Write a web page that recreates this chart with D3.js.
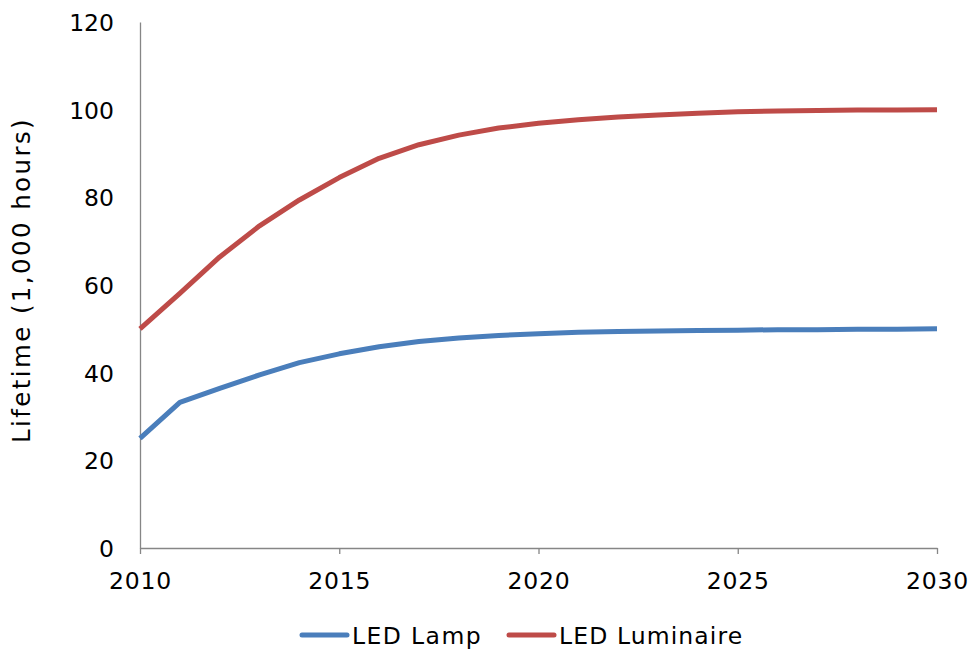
<!DOCTYPE html>
<html>
<head>
<meta charset="utf-8">
<script src="https://cdn.jsdelivr.net/npm/d3@7"></script>
<style>
  html, body { margin: 0; padding: 0; background: #fff; }
  svg text { font-family: "DejaVu Sans", "Noto Sans", sans-serif; fill: #000; }
</style>
</head>
<body>
<svg id="chart" width="973" height="650"></svg>
<script>
// Projected lifetime of LED products, thousands of hours
const years = d3.range(2010, 2031);
const lampValues = [25, 33.2, 36.4, 39.5, 42.3, 44.3, 45.9, 47.1, 47.9, 48.5, 48.9,
                    49.2, 49.4, 49.5, 49.6, 49.7, 49.8, 49.8, 49.9, 49.9, 50];
const luminaireValues = [50, 58.1, 66.4, 73.5, 79.4, 84.5, 88.9, 92.0, 94.2, 95.8, 96.9,
                         97.7, 98.3, 98.8, 99.2, 99.5, 99.7, 99.8, 99.9, 99.9, 100];
const yTicks = [0, 20, 40, 60, 80, 100, 120];
const xTicks = [2010, 2015, 2020, 2025, 2030];
const seriesNames = ["LED Lamp", "LED Luminaire"];
const seriesColors = ["#4A7EBB", "#BE4B48"];

const svg = d3.select("#chart");
const margin = { left: 140, right: 36, top: 22, bottom: 102 };
const W = 973, H = 650;

const x = d3.scaleLinear().domain([2010, 2030]).range([margin.left, W - margin.right]);
const y = d3.scaleLinear().domain([0, 120]).range([H - margin.bottom, margin.top]);

const axisColor = "#868686";
const fontSize = 23.5;

// y axis: line only, no tick marks; labels placed right-aligned left of the line
const yAxis = svg.append("g")
  .attr("transform", `translate(${margin.left},0)`)
  .call(d3.axisLeft(y).tickValues(yTicks).tickSize(0).tickFormat(""));
yAxis.select(".domain").attr("stroke", axisColor).attr("stroke-width", 1.3);
yAxis.selectAll(".tick").append("text")
  .attr("x", -26)
  .attr("y", 8.5)
  .attr("text-anchor", "end")
  .attr("font-size", fontSize)
  .attr("fill", "#000")
  .style("font-family", "'DejaVu Sans', sans-serif")
  .text(d => d);

// x axis with outward ticks every 5 years
const xAxis = svg.append("g")
  .attr("transform", `translate(0,${y(0)})`)
  .call(d3.axisBottom(x).tickValues(xTicks).tickFormat(d3.format("d")).tickSizeInner(6).tickSizeOuter(0));
xAxis.select(".domain").attr("stroke", axisColor).attr("stroke-width", 1.3);
xAxis.selectAll(".tick line").attr("stroke", axisColor).attr("stroke-width", 1.3);
xAxis.selectAll("text")
  .attr("font-size", fontSize).attr("fill", "#000")
  .attr("y", 41).attr("dy", 0).attr("letter-spacing", 0.8)
  .style("font-family", "'DejaVu Sans', sans-serif");

// y axis title
svg.append("text")
  .attr("transform", `translate(30,${(y(0) + y(120)) / 2 - 5}) rotate(-90)`)
  .attr("text-anchor", "middle")
  .attr("font-size", 24.5)
  .attr("letter-spacing", 2.4)
  .text("Lifetime (1,000 hours)");

// series lines
const line = d3.line().x((d, i) => x(years[i])).y(d => y(d));
[lampValues, luminaireValues].forEach((vals, i) => {
  svg.append("path")
    .datum(vals)
    .attr("fill", "none")
    .attr("stroke", seriesColors[i])
    .attr("stroke-width", 5)
    .attr("stroke-linejoin", "round")
    .attr("d", line);
});

// legend
const legendY = 635;
const legendX = [302, 509];
seriesNames.forEach((name, i) => {
  const g = svg.append("g").attr("transform", `translate(${legendX[i]},${legendY})`);
  g.append("line").attr("x1", 0).attr("x2", 45).attr("y1", 0).attr("y2", 0)
    .attr("stroke", seriesColors[i]).attr("stroke-width", 5).attr("stroke-linecap", "round");
  g.append("text").attr("x", 50).attr("y", 9).attr("font-size", fontSize)
    .attr("letter-spacing", i === 0 ? 1.4 : 1.1).text(name);
});
</script>
</body>
</html>
